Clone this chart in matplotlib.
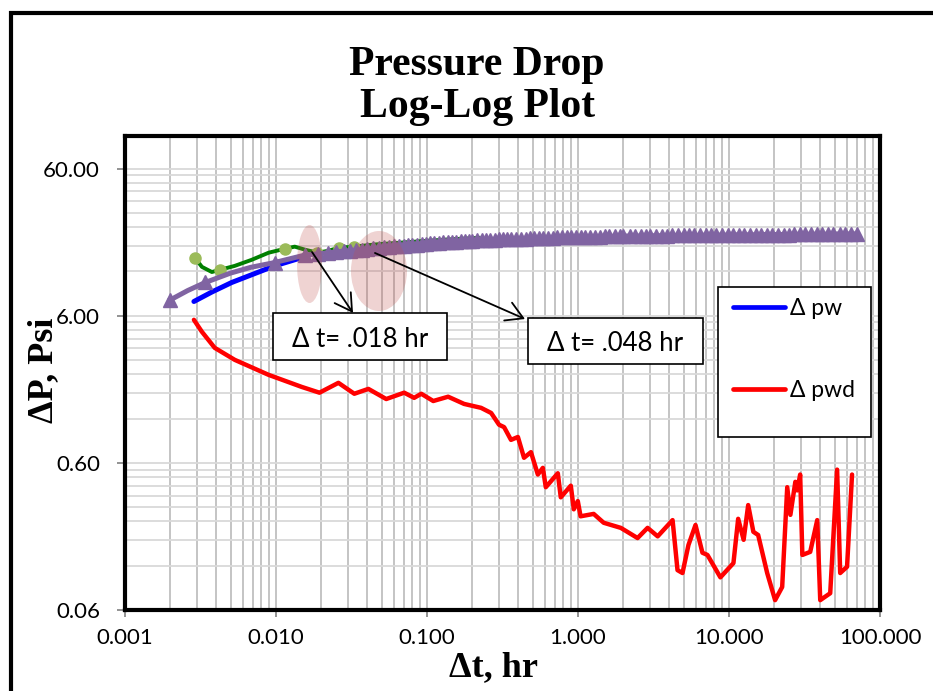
import matplotlib
matplotlib.use('Agg')
import matplotlib.pyplot as plt
from matplotlib.patches import Ellipse, Rectangle
from matplotlib.ticker import FixedLocator, FuncFormatter, NullFormatter, LogLocator

plt.rcParams['font.family'] = ['Lato', 'DejaVu Sans']

# Delta pwd (red)
red_t = [0.00286, 0.00323, 0.00393, 0.00533, 0.00893, 0.0148, 0.0194, 0.0259, 0.0330, 0.0409,
         0.0537, 0.0706, 0.0822, 0.0916, 0.110, 0.138, 0.176, 0.228, 0.266, 0.300,
         0.324, 0.360, 0.400, 0.439, 0.488, 0.542, 0.585, 0.612, 0.735, 0.769,
         0.896, 0.938, 0.997, 1.04, 1.27, 1.48, 1.92, 2.48, 2.89, 3.37,
         4.23, 4.56, 4.92, 5.39, 6.00, 6.67, 7.20, 8.77, 10.7, 11.5,
         12.5, 13.4, 14.5, 15.6, 17.9, 20.2, 22.5, 24.3, 25.5, 27.5,
         28.3, 29.6, 30.6, 34.5, 38.4, 40.2, 46.8, 52.0, 54.5, 60.5, 65.3]
red_p = [5.63, 4.67, 3.63, 3.01, 2.38, 1.97, 1.80, 2.10, 1.77, 1.91,
         1.63, 1.80, 1.66, 1.77, 1.58, 1.69, 1.51, 1.42, 1.31, 1.09,
         1.05, 0.86, 0.90, 0.65, 0.71, 0.50, 0.555, 0.41, 0.51, 0.35,
         0.42, 0.29, 0.33, 0.26, 0.27, 0.235, 0.217, 0.185, 0.217, 0.19,
         0.245, 0.112, 0.107, 0.166, 0.227, 0.147, 0.142, 0.10, 0.125, 0.25,
         0.18, 0.31, 0.204, 0.194, 0.107, 0.070, 0.086, 0.41, 0.266, 0.446,
         0.39, 0.50, 0.142, 0.149, 0.245, 0.070, 0.078, 0.54, 0.107, 0.118, 0.50]

# Delta pw (blue)
blue_t = [0.00286, 0.00376, 0.00509, 0.0069, 0.00979, 0.0148]
blue_p = [7.5, 8.7, 10.1, 11.4, 13.1, 14.9]

# green series (smoothed line with round markers)
green_t = [0.0029, 0.00323, 0.00376, 0.00424, 0.00533, 0.0069, 0.00894, 0.0114, 0.0133, 0.0155,
           0.0188, 0.0223, 0.026, 0.033, 0.045, 0.07, 0.1, 0.15, 0.22]
green_p = [14.9, 12.9, 11.9, 12.3, 13.1, 14.4, 16.1, 17.1, 17.7, 16.9,
           16.1, 16.6, 17.4, 17.7, 18.3, 18.9, 19.4, 19.9, 20.3]
green_marks = [0, 3, 7, 10, 12, 13]

# purple series (triangles)
purple_t = [0.0020, 0.0026, 0.0034, 0.0050, 0.0068, 0.0098, 0.0155,
            0.019, 0.022, 0.025, 0.028, 0.031, 0.034, 0.037, 0.040, 0.044, 0.048,
            0.052, 0.056, 0.060, 0.065, 0.070, 0.075, 0.080, 0.086, 0.092, 0.098,
            0.105, 0.112, 0.120, 0.128, 0.137, 0.146, 0.156, 0.167, 0.178, 0.19,
            0.20, 0.215, 0.23, 0.245, 0.26, 0.28, 0.30, 0.32, 0.34, 0.36,
            0.39, 0.42, 0.45, 0.48, 0.51, 0.55, 0.59, 0.63, 0.68, 0.73,
            0.78, 0.84, 0.90, 0.97, 1.04, 1.12, 1.2, 1.3, 1.4, 1.5,
            1.6, 1.75, 1.9, 2.0, 2.2, 2.4, 2.6, 2.8, 3.0, 3.3,
            3.6, 3.9, 4.2, 4.6, 5.0, 5.4, 5.9, 6.4, 7.0, 7.6,
            8.2, 9.0, 9.8, 10.7, 11.6, 12.6, 13.7, 15, 16.3, 17.8,
            19.4, 21, 23, 25, 27, 29.5, 32, 35, 38, 41.5,
            45, 49, 54, 59, 64, 70]
purple_p = [7.7, 8.9, 10.1, 11.7, 12.8, 13.8, 15.5,
            15.8, 16.1, 16.3, 16.5, 16.6, 16.8, 16.9, 17.0, 17.2, 17.4,
            17.5, 17.6, 17.8, 17.9, 18.0, 18.1, 18.2, 18.3, 18.4, 18.5,
            18.6, 18.7, 18.8, 18.9, 19.0, 19.0, 19.1, 19.2, 19.3, 19.3,
            19.4, 19.5, 19.5, 19.6, 19.7, 19.7, 19.8, 19.9, 19.9, 20.0,
            20.0, 20.1, 20.1, 20.2, 20.2, 20.3, 20.3, 20.4, 20.4, 20.5,
            20.5, 20.5, 20.6, 20.6, 20.6, 20.7, 20.7, 20.7, 20.7, 20.8,
            20.8, 20.8, 20.8, 20.9, 20.9, 20.9, 20.9, 21.0, 21.0, 21.0,
            21.0, 21.0, 21.1, 21.1, 21.1, 21.1, 21.1, 21.1, 21.2, 21.2,
            21.2, 21.2, 21.2, 21.3, 21.3, 21.3, 21.3, 21.3, 21.4, 21.4,
            21.4, 21.4, 21.4, 21.4, 21.5, 21.5, 21.5, 21.5, 21.5, 21.5,
            21.5, 21.6, 21.6, 21.6, 21.6, 21.6]
purple_marks = [0, 2] + list(range(5, len(purple_t)))

x_ticks = [0.001, 0.01, 0.1, 1, 10, 100]
y_ticks = [0.06, 0.6, 6, 60]

fig = plt.figure(figsize=(9.33, 6.91), dpi=100)
ax = fig.add_axes([125 / 933, 81 / 691, 755 / 933, 474 / 691])

ax.plot(red_t, red_p, color='#FF0000', lw=3.2, label='Δ pwd', zorder=3,
        solid_joinstyle='round', solid_capstyle='round')
ax.plot(blue_t, blue_p, color='#0000FF', lw=3.6, label='Δ pw', zorder=3, solid_capstyle='round')
ax.plot(green_t, green_p, color='#008000', lw=2.8, marker='o', markersize=8,
        markerfacecolor='#9BBB59', markeredgecolor='#9BBB59', markevery=green_marks, zorder=4)
ax.plot(purple_t, purple_p, color='#8064A2', lw=3.6, marker='^', markersize=10.5,
        markerfacecolor='#8064A2', markeredgecolor='#8064A2', markevery=purple_marks, zorder=5)

ax.set_xscale('log')
ax.set_yscale('log')
ax.set_xlim(0.001, 100)
ax.set_ylim(0.06, 100)

ax.set_xticks(x_ticks)
ax.set_yticks(y_ticks)
ax.xaxis.set_major_formatter(FuncFormatter(lambda v, p: f'{v:.3f}'))
ax.yaxis.set_major_formatter(FuncFormatter(lambda v, p: f'{v:.2f}'))
ax.xaxis.set_minor_locator(LogLocator(base=10, subs=range(2, 10), numticks=50))
ax.yaxis.set_minor_locator(FixedLocator([m * b for b in (0.06, 0.6, 6) for m in range(2, 10)]))
ax.xaxis.set_minor_formatter(NullFormatter())
ax.yaxis.set_minor_formatter(NullFormatter())

ax.set_axisbelow(True)
ax.grid(which='both', axis='x', color='#BFBFBF', lw=1.3)
ax.grid(which='both', axis='y', color='#D9D9D9', lw=1.3)
ax.tick_params(which='minor', length=0)
ax.tick_params(axis='y', which='major', length=6, width=1.2, color='#808080', pad=12, labelsize=16)
ax.tick_params(axis='x', which='major', length=5, width=1.2, color='#808080', pad=8, labelsize=16)
for s in ax.spines.values():
    s.set_linewidth(3)
    s.set_color('black')

# highlight ellipses
ax.add_patch(Ellipse((0.2444, 0.730), 0.0331, 0.1646, transform=ax.transAxes,
                     facecolor='#C0504D', alpha=0.25, edgecolor='none', zorder=6))
ax.add_patch(Ellipse((0.3364, 0.7152), 0.0742, 0.1688, transform=ax.transAxes,
                     facecolor='#C0504D', alpha=0.25, edgecolor='none', zorder=6))

# arrows and call-out boxes
arrow = dict(arrowstyle='->,head_length=0.6,head_width=0.35', lw=1.3, color='black',
             shrinkA=0, shrinkB=0, mutation_scale=20)
ax.annotate('', xy=(0.302, 0.6266), xytext=(0.2477, 0.7553), xycoords='axes fraction',
            arrowprops=arrow, zorder=7)
ax.annotate('', xy=(0.5298, 0.6139), xytext=(0.3311, 0.7532), xycoords='axes fraction',
            arrowprops=arrow, zorder=7)

ax.add_patch(Rectangle((0.196, 0.5274), 0.2305, 0.0992, transform=ax.transAxes,
                       facecolor='white', edgecolor='black', lw=1.2, zorder=8))
ax.text(0.3113, 0.5717, 'Δ t= .018 hr', transform=ax.transAxes, ha='center', va='center',
        fontsize=18.5, zorder=9)
ax.add_patch(Rectangle((0.5338, 0.519), 0.2318, 0.097, transform=ax.transAxes,
                       facecolor='white', edgecolor='black', lw=1.2, zorder=8))
ax.text(0.6497, 0.563, 'Δ t= .048 hr', transform=ax.transAxes, ha='center', va='center',
        fontsize=18.5, zorder=9)

# legend
ax.add_patch(Rectangle((0.7854, 0.365), 0.2026, 0.3165, transform=ax.transAxes,
                       facecolor='white', edgecolor='black', lw=1.2, zorder=8))
h = {l.get_label(): l for l in ax.get_lines()}
leg = ax.legend([h['Δ pw'], h['Δ pwd']], ['Δ pw', 'Δ pwd'], loc='upper left',
                bbox_to_anchor=(0.805, 0.658), frameon=False, fontsize=16.5, borderpad=0,
                borderaxespad=0, handlelength=2.3, handletextpad=0.2, labelspacing=2.65)
leg.set_zorder(9)
for ln in leg.get_lines():
    ln.set_linewidth(3.4)

# titles
fig.text(477 / 933, 1 - 86 / 691, 'Pressure Drop\nLog-Log Plot', ha='center', va='center',
         fontsize=30, fontweight='bold', family='Liberation Serif', linespacing=1.12)
fig.text(44 / 933, 1 - 370 / 691, 'ΔP, Psi', rotation=90, ha='center', va='center',
         fontsize=26, fontweight='bold', family='Liberation Serif')
fig.text(494 / 933, 1 - 668 / 691, 'Δt, hr', ha='center', va='center',
         fontsize=26, fontweight='bold', family='Liberation Serif')

# outer chart frame
fig.add_artist(Rectangle((11 / 933, -0.1), 1.2, (691 - 13) / 691 + 0.1, transform=fig.transFigure,
                         fill=False, edgecolor='black', lw=3, clip_on=False))

fig.savefig('out.png', dpi=100)
